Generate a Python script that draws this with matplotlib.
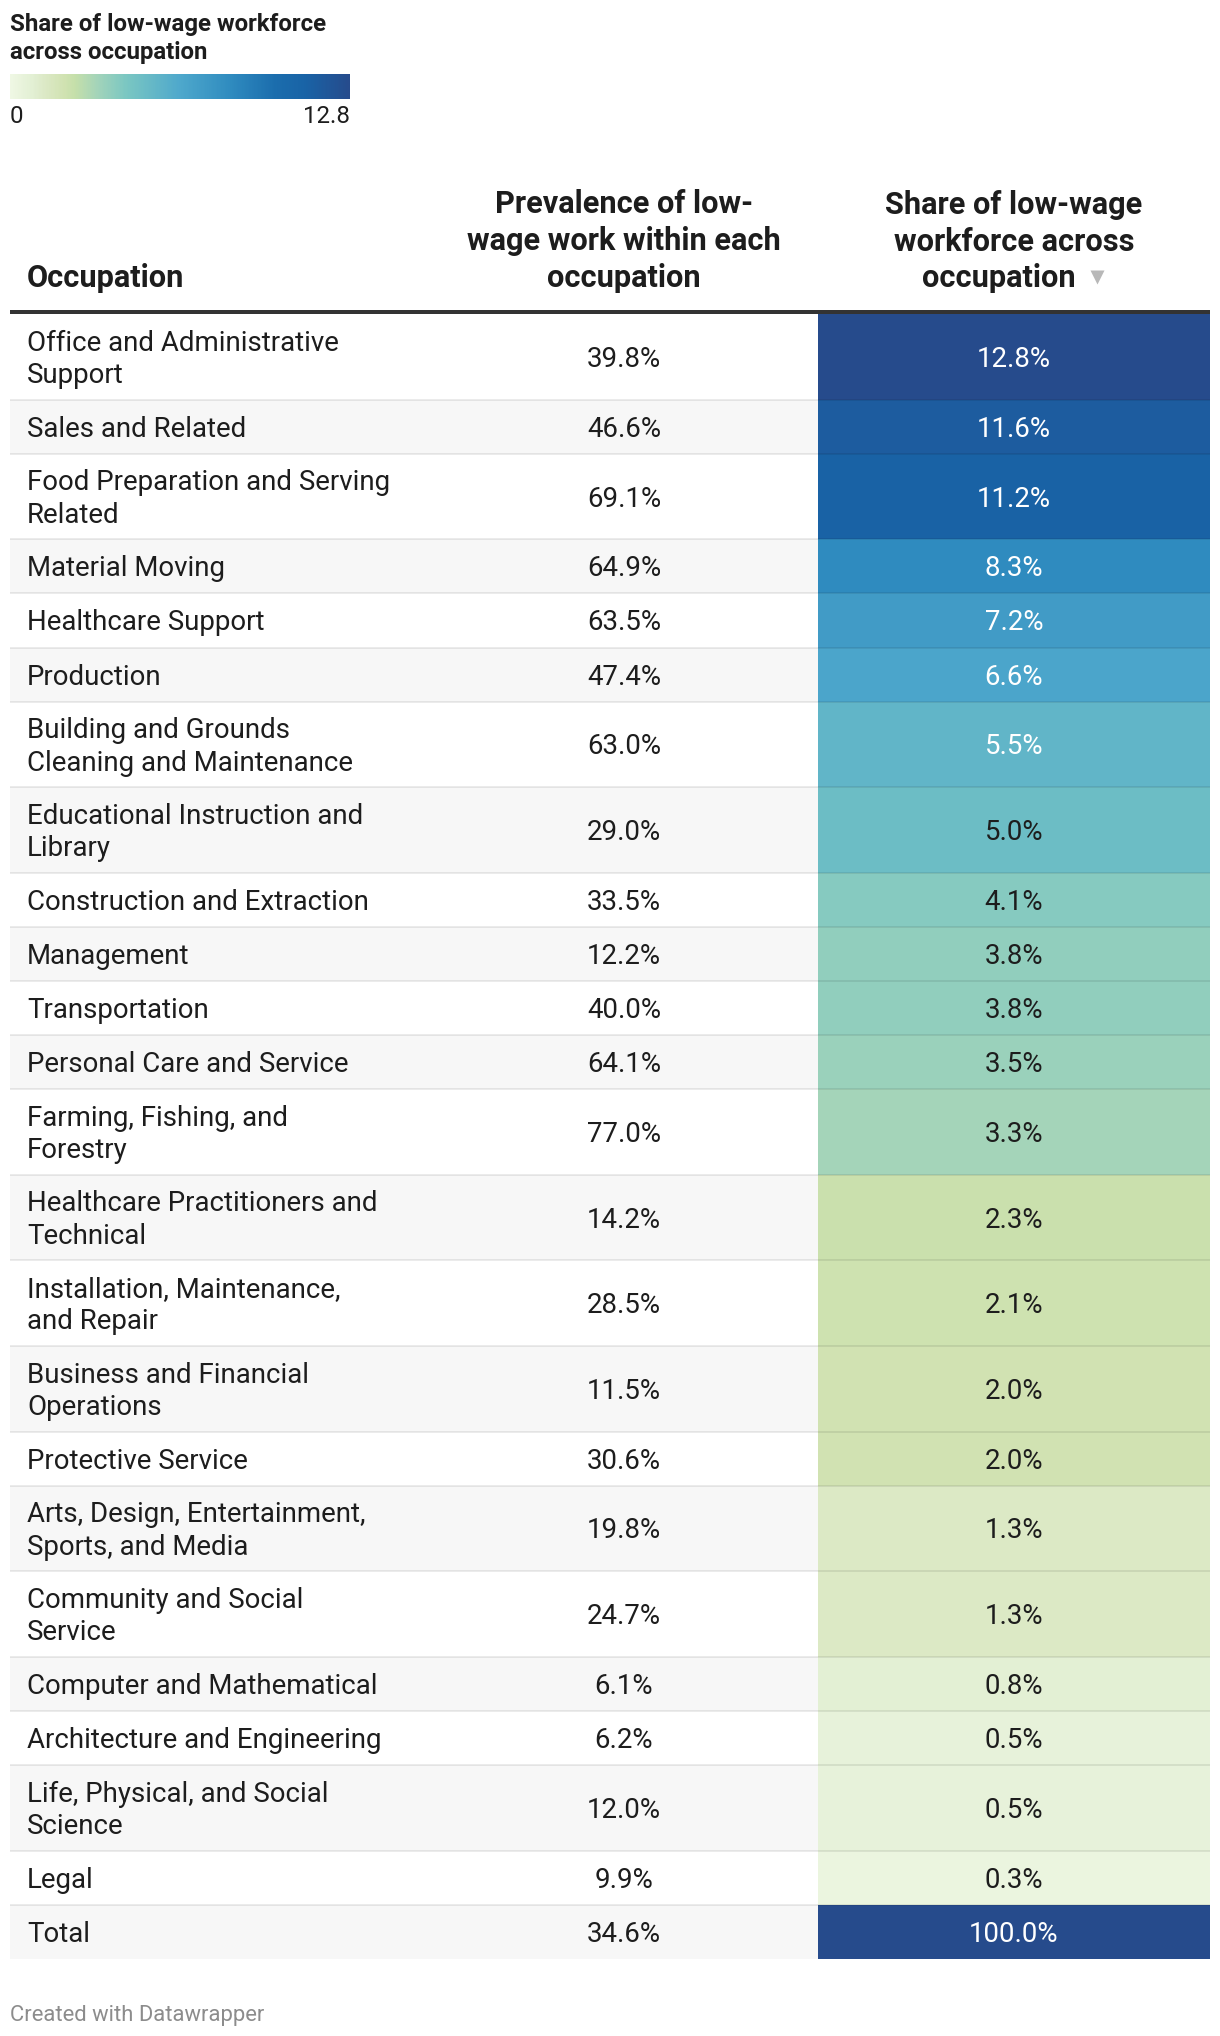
import numpy as np
import matplotlib.pyplot as plt
from matplotlib.colors import LinearSegmentedColormap, Normalize, to_rgb
from matplotlib.patches import Rectangle
from matplotlib.cm import ScalarMappable

plt.rcParams['font.family'] = ['Roboto', 'DejaVu Sans']

# table data
occupations = [
    "Office and Administrative\nSupport",
    "Sales and Related",
    "Food Preparation and Serving\nRelated",
    "Material Moving",
    "Healthcare Support",
    "Production",
    "Building and Grounds\nCleaning and Maintenance",
    "Educational Instruction and\nLibrary",
    "Construction and Extraction",
    "Management",
    "Transportation",
    "Personal Care and Service",
    "Farming, Fishing, and\nForestry",
    "Healthcare Practitioners and\nTechnical",
    "Installation, Maintenance,\nand Repair",
    "Business and Financial\nOperations",
    "Protective Service",
    "Arts, Design, Entertainment,\nSports, and Media",
    "Community and Social\nService",
    "Computer and Mathematical",
    "Architecture and Engineering",
    "Life, Physical, and Social\nScience",
    "Legal",
    "Total",
]
prevalence = [39.8, 46.6, 69.1, 64.9, 63.5, 47.4, 63.0, 29.0, 33.5, 12.2, 40.0, 64.1,
              77.0, 14.2, 28.5, 11.5, 30.6, 19.8, 24.7, 6.1, 6.2, 12.0, 9.9, 34.6]
share = [12.8, 11.6, 11.2, 8.3, 7.2, 6.6, 5.5, 5.0, 4.1, 3.8, 3.8, 3.5,
         3.3, 2.3, 2.1, 2.0, 2.0, 1.3, 1.3, 0.8, 0.5, 0.5, 0.3, 100.0]

col_headers = ["Occupation",
               "Prevalence of low-\nwage work within each\noccupation",
               "Share of low-wage\nworkforce across",
               "occupation"]
legend_title = "Share of low-wage workforce\nacross occupation"
scale_min, scale_max = 0, 12.8
footer = "Created with Datawrapper"

cmap = LinearSegmentedColormap.from_list("dw", [
    (0.00, "#eff7e4"),
    (0.06, "#e3f0d5"),
    (0.10, "#dce9c6"),
    (0.16, "#d0e2b1"),
    (0.19, "#c5dfaa"),
    (0.26, "#a1d3ba"),
    (0.34, "#7bc7c2"),
    (0.50, "#4ea8cc"),
    (0.65, "#2f8bbf"),
    (0.78, "#1b6dad"),
    (0.87, "#1963a6"),
    (1.00, "#264b8c"),
])
norm = Normalize(scale_min, scale_max, clip=True)

W, H = 1220, 2036
fig = plt.figure(figsize=(W / 100, H / 100), dpi=100)
ax = fig.add_axes([0, 0, 1, 1])
ax.set_xlim(0, W)
ax.set_ylim(H, 0)
ax.axis('off')

px = 0.72  # px -> pt
txt = '#1d1d1d'
left, right, c3_left = 10, 1210, 818
x_lab, x_c2, x_c3 = 27, 624, 1014

# legend
ax.text(10, 13, legend_title, fontsize=24 * px, fontweight='bold', color=txt,
        va='top', ha='left', linespacing=1.3)
cax = fig.add_axes([10 / W, 1 - 99 / H, 340 / W, 25 / H])
cb = fig.colorbar(ScalarMappable(norm=norm, cmap=cmap), cax=cax, orientation='horizontal')
cb.outline.set_visible(False)
cax.set_xticks([])
ax.text(10, 116, f"{scale_min:g}", fontsize=24 * px, color=txt, va='center', ha='left')
ax.text(350, 116, f"{scale_max:g}", fontsize=24 * px, color=txt, va='center', ha='right')

# headers
hs = 30.8 * px
ax.text(x_lab, 293, col_headers[0], fontsize=hs, fontweight='bold', color=txt, va='bottom', ha='left')
ax.text(x_c2, 293, col_headers[1], fontsize=hs, fontweight='bold', color=txt,
        va='bottom', ha='center', multialignment='center', linespacing=1.3)
ax.text(x_c3, 293 - 36, col_headers[2], fontsize=hs, fontweight='bold', color=txt,
        va='bottom', ha='center', multialignment='center', linespacing=1.3)
ax.text(999, 293, col_headers[3], fontsize=hs, fontweight='bold', color=txt, va='bottom', ha='center')
ax.plot(1097, 277, marker='v', ms=10, color='#b8b8b8', mec='none')

# rows
y = 314
for i, (lab, p, s) in enumerate(zip(occupations, prevalence, share)):
    h = 22.6 + 31.5 * (lab.count("\n") + 1)
    bg = '#f7f7f7' if i % 2 else 'white'
    ax.add_patch(Rectangle((left, y), right - left, h, color=bg, lw=0))
    c = cmap(norm(s))
    ax.add_patch(Rectangle((c3_left, y), right - c3_left, h, color=c, lw=0))
    if i > 0:
        ax.plot([left, right], [y, y], color='black', alpha=0.08, lw=2 * px, solid_capstyle='butt')
    yc = y + h / 2 + 2.5
    ax.text(x_lab, yc, lab, fontsize=27.6 * px, color=txt, va='center', ha='left', linespacing=1.25)
    ax.text(x_c2, yc, f"{p:.1f}%", fontsize=27.6 * px, color=txt, va='center', ha='center')
    r, g, b = to_rgb(c)
    lum = 255 * (0.299 * r + 0.587 * g + 0.114 * b)
    ax.text(x_c3, yc, f"{s:.1f}%", fontsize=27.6 * px, color='white' if lum < 161 else txt,
            va='center', ha='center')
    y += h

ax.plot([left, right], [312, 312], color='#333333', lw=4 * px, solid_capstyle='butt')

ax.text(10, 2016, footer, fontsize=22 * px, color='#8c8c8c', va='center', ha='left')

fig.savefig("out.png", dpi=100, facecolor='white')
